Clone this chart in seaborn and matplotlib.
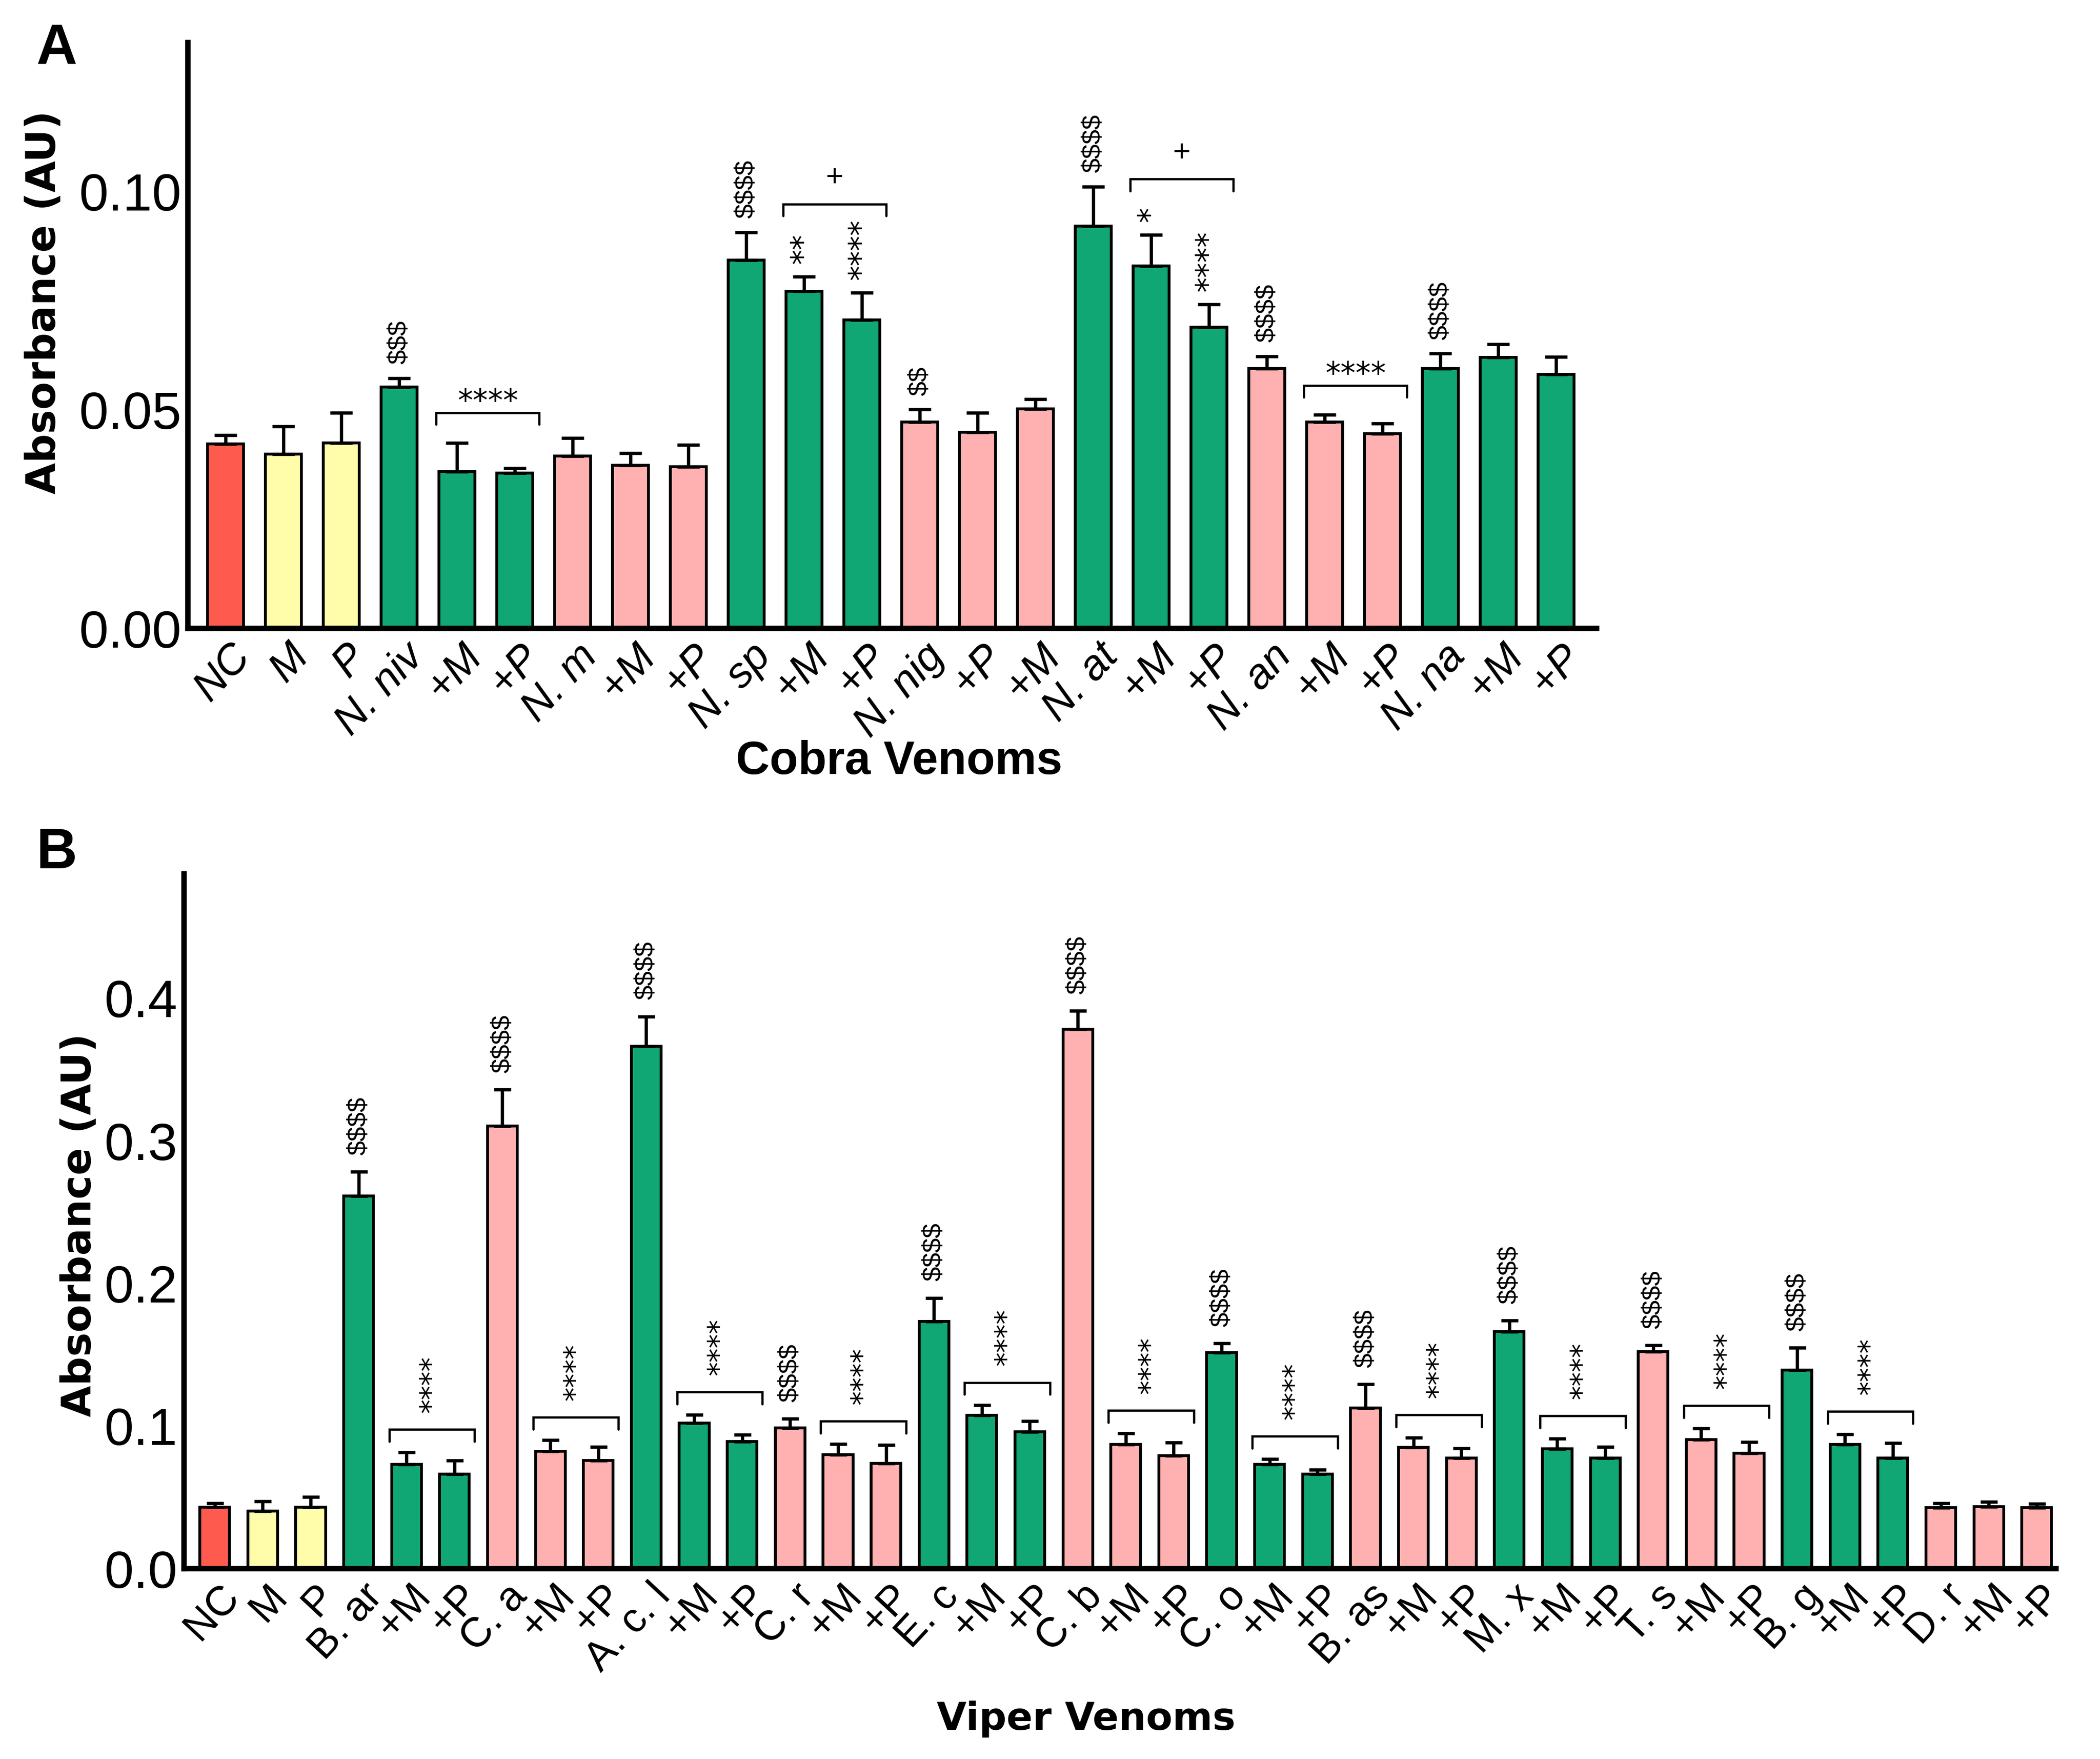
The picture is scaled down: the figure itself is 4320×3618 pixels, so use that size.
import numpy as np
import pandas as pd
import matplotlib
matplotlib.use("Agg")
import matplotlib.pyplot as plt
from matplotlib.transforms import ScaledTranslation
import seaborn as sns

sns.set_theme(style="white")
plt.rcParams['font.family'] = ['Liberation Sans', 'DejaVu Sans']
plt.rcParams['text.color'] = 'black'
plt.rcParams['axes.labelcolor'] = 'black'
plt.rcParams['xtick.color'] = 'black'
plt.rcParams['ytick.color'] = 'black'

# ---------------- Data ----------------
labels_A = ["NC", "M", "P", "N. niv", "+M", "+P", "N. m", "+M", "+P",
            "N. sp", "+M", "+P", "N. nig", "+P", "+M", "N. at", "+M", "+P",
            "N. an", "+M", "+P", "N. na", "+M", "+P"]
mean_A = [0.0422, 0.0398, 0.0424, 0.0552, 0.0358, 0.0355, 0.0394, 0.0373, 0.0369,
          0.0842, 0.0771, 0.0705, 0.0471, 0.0448, 0.0502, 0.0920, 0.0828, 0.0688,
          0.0594, 0.0471, 0.0445, 0.0594, 0.0619, 0.0581]
sem_A = [0.0020, 0.0064, 0.0069, 0.0020, 0.0066, 0.0011, 0.0041, 0.0027, 0.0050,
         0.0063, 0.0033, 0.0062, 0.0029, 0.0045, 0.0022, 0.0090, 0.0072, 0.0053,
         0.0028, 0.0017, 0.0023, 0.0034, 0.0030, 0.0040]
group_A = ["nc", "ctrl", "ctrl", "green", "green", "green", "pink", "pink", "pink",
           "green", "green", "green", "pink", "pink", "pink", "green", "green", "green",
           "pink", "pink", "pink", "green", "green", "green"]

labels_B = ["NC", "M", "P", "B. ar", "+M", "+P", "C. a", "+M", "+P", "A. c. l", "+M", "+P",
            "C. r", "+M", "+P", "E. c", "+M", "+P", "C. b", "+M", "+P", "C. o", "+M", "+P",
            "B. as", "+M", "+P", "M. x", "+M", "+P", "T. s", "+M", "+P", "B. g", "+M", "+P",
            "D. r", "+M", "+P"]
mean_B = [0.0428, 0.0400, 0.0428, 0.261, 0.0728, 0.0660, 0.310, 0.0819, 0.0757,
          0.366, 0.1020, 0.0890, 0.0985, 0.0798, 0.0736, 0.173, 0.1073, 0.0956,
          0.378, 0.0869, 0.0790, 0.1514, 0.0728, 0.0660, 0.1123, 0.0848, 0.0773,
          0.166, 0.0836, 0.0773, 0.1518, 0.0902, 0.0807, 0.139, 0.0869, 0.0773,
          0.0424, 0.0432, 0.0424]
sem_B = [0.0029, 0.0070, 0.0072, 0.0170, 0.0087, 0.0097, 0.0256, 0.0079, 0.0095,
         0.0210, 0.0057, 0.0046, 0.0063, 0.0075, 0.0129, 0.0166, 0.0070, 0.0075,
         0.0130, 0.0079, 0.0091, 0.0062, 0.0037, 0.0030, 0.0167, 0.0067, 0.0067,
         0.0078, 0.0074, 0.0079, 0.0045, 0.0078, 0.0079, 0.0157, 0.0071, 0.0107,
         0.0033, 0.0034, 0.0029]
group_B = ["nc", "ctrl", "ctrl"] + sum([[g] * 3 for g in
           ["green", "pink", "green", "pink", "green", "pink", "green",
            "pink", "green", "pink", "green", "pink"]], []) + ["pink"] * 3

palette = {"nc": "#FF5A4E", "ctrl": "#FFFCAA", "green": "#10A775", "pink": "#FFB0B0"}

# annotations (text marks)
dollar_A = {3: "$$$", 9: "$$$$", 12: "$$", 15: "$$$$", 18: "$$$$", 21: "$$$$"}
barstar_A = {10: "**", 11: "****", 16: "*", 17: "****"}
brackets_A = [(4, "****", 0.0069), (10, "+", 0.0166), (16, "+", 0.0127), (19, "****", 0.0067)]

dollar_B = {i: "$$$$" for i in range(3, 36, 3)}
brackets_B = [(i, "****", 0.016) for i in range(4, 36, 3)]

STAR_FONT = "DejaVu Sans"
ROT = 47

# ---------------- Figure ----------------
fig = plt.figure(figsize=(14.4, 12.0633), dpi=300)
axA = fig.add_axes([0.0893, 0.6427, 0.671, 0.333])
axB = fig.add_axes([0.0874, 0.1084, 0.8916, 0.3947])


def draw_panel(ax, labels, means, sems, groups, capsize):
    n = len(labels)
    keys = [f"k{i:02d}" for i in range(n)]
    df = pd.DataFrame({"key": keys, "mean": means})
    sns.barplot(data=df, x="key", y="mean", hue="key", order=keys, hue_order=keys,
                palette=[palette[g] for g in groups], legend=False, width=0.62,
                saturation=1, edgecolor="black", linewidth=1.4, errorbar=None, ax=ax)
    x = np.arange(n)
    ax.errorbar(x, means, yerr=[np.zeros(n), sems], fmt="none", ecolor="black",
                elinewidth=1.6, capsize=capsize, capthick=1.6, zorder=3)
    for s in ["top", "right"]:
        ax.spines[s].set_visible(False)
    for s in ["left", "bottom"]:
        ax.spines[s].set_linewidth(2.7)
        ax.spines[s].set_color("black")
    ax.tick_params(axis="both", length=0)
    ax.tick_params(axis="y", pad=3)
    ax.tick_params(axis="x", pad=4)
    return np.array(means) + np.array(sems)


def set_xlabels(ax, labels, fs, italic):
    ax.set_xticks(np.arange(len(labels)))
    ax.set_xticklabels(labels, rotation=ROT, ha="right", va="top",
                       rotation_mode="anchor", fontsize=fs,
                       fontstyle="italic" if italic else "normal")
    shift = ScaledTranslation(0.025, 0, fig.dpi_scale_trans)
    for lab in ax.get_xticklabels():
        lab.set_transform(lab.get_transform() + shift)


def bracket(ax, i, y, h, txt, rotated, fs, txt_gap, family):
    x0, x1 = i - 0.36, i + 1 + 0.42
    ax.plot([x0, x0, x1, x1], [y - h, y, y, y - h], color="black", lw=1.1,
            solid_joinstyle="miter", clip_on=False)
    xm = (x0 + x1) / 2
    if rotated:
        ax.text(xm, y + txt_gap, txt, rotation=90, ha="center", va="bottom",
                fontsize=fs, parse_math=False, family=family)
    else:
        ax.text(xm, y + txt_gap, txt, ha="center", va="baseline",
                fontsize=fs, parse_math=False, family=family)


# ---- Panel A ----
top_A = draw_panel(axA, labels_A, mean_A, sem_A, group_A, capsize=5.5)
axA.set_xlim(-0.66, len(labels_A) - 1 + 0.7)
axA.set_ylim(0, 0.134)
axA.set_yticks([0.0, 0.05, 0.10])
axA.set_yticklabels(["0.00", "0.05", "0.10"], fontsize=26)
set_xlabels(axA, labels_A, 21, True)
axA.set_ylabel("Absorbance (AU)", fontsize=20, fontweight="bold",
               family="DejaVu Sans")
axA.yaxis.set_label_coords(-0.088, 0.557)
axA.set_xlabel("Cobra Venoms", fontsize=23, fontweight="bold", family="Liberation Sans")
axA.xaxis.set_label_coords(0.505, -0.19)

for i, t in dollar_A.items():
    axA.text(i, top_A[i] + 0.0033, t, rotation=90, ha="center", va="bottom",
             fontsize=13, parse_math=False)
for i, t in barstar_A.items():
    axA.text(i, top_A[i] + 0.0030, t, rotation=90, ha="center", va="bottom",
             fontsize=15, parse_math=False, family=STAR_FONT)
for i, t, gap in brackets_A:
    yb = max(top_A[i], top_A[i + 1]) + gap
    if t == "+":
        bracket(axA, i, yb, 0.0027, t, False, 15, 0.0042, "Liberation Sans")
    else:
        bracket(axA, i, yb, 0.0027, t, False, 15, 0.0005, STAR_FONT)

# ---- Panel B ----
top_B = draw_panel(axB, labels_B, mean_B, sem_B, group_B, capsize=4.2)
axB.set_xlim(-0.65, len(labels_B) - 1 + 0.4)
axB.set_ylim(0, 0.487)
axB.set_yticks([0.0, 0.1, 0.2, 0.3, 0.4])
axB.set_yticklabels(["0.0", "0.1", "0.2", "0.3", "0.4"], fontsize=26)
set_xlabels(axB, labels_B, 20.5, False)
axB.set_ylabel("Absorbance (AU)", fontsize=20, fontweight="bold",
               family="DejaVu Sans")
axB.yaxis.set_label_coords(-0.045, 0.495)
axB.set_xlabel("Viper Venoms", fontsize=19, fontweight="bold", family="DejaVu Sans")
axB.xaxis.set_label_coords(0.482, -0.19)

for i, t in dollar_B.items():
    axB.text(i, top_B[i] + 0.012, t, rotation=90, ha="center", va="bottom",
             fontsize=13, parse_math=False)
for i, t, gap in brackets_B:
    yb = max(top_B[i], top_B[i + 1]) + gap
    bracket(axB, i, yb, 0.0085, t, True, 14, 0.012, STAR_FONT)

fig.text(0.027, 0.972, "A", fontsize=28, fontweight="bold", ha="center", va="center")
fig.text(0.027, 0.515, "B", fontsize=28, fontweight="bold", ha="center", va="center")

fig.savefig("out.png", dpi=300, facecolor="white")
